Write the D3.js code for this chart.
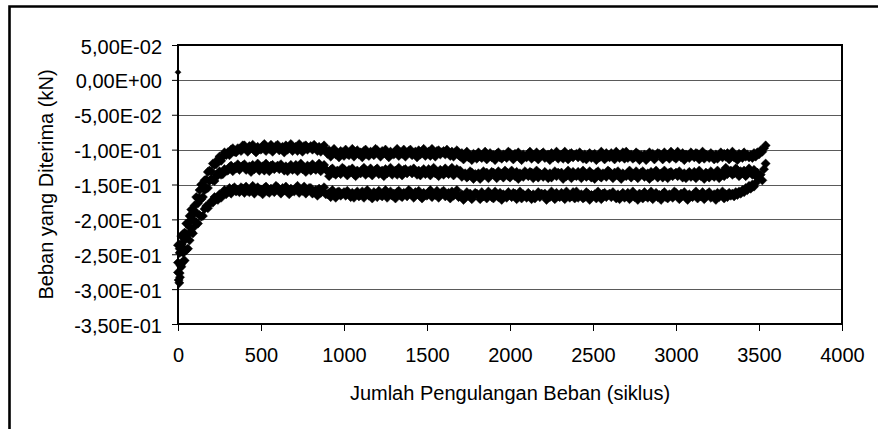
<!DOCTYPE html>
<html>
<head>
<meta charset="utf-8">
<script src="https://cdn.jsdelivr.net/npm/d3@7"></script>
<style>
  html, body { margin: 0; padding: 0; background: #fff; }
  svg { display: block; font-family: "Liberation Sans", Arial, sans-serif; }
</style>
</head>
<body>
<svg id="chart" width="878" height="429"></svg>
<script>
// Axis ticks
const xTicks = [0, 500, 1000, 1500, 2000, 2500, 3000, 3500, 4000];
const yTicks = [0.05, 0, -0.05, -0.10, -0.15, -0.20, -0.25, -0.30, -0.35];
const yTickLabels = ["5,00E-02", "0,00E+00", "-5,00E-02", "-1,00E-01", "-1,50E-01",
                     "-2,00E-01", "-2,50E-01", "-3,00E-01", "-3,50E-01"];

// Readings were logged every 10 load cycles, starting at cycle 0
const logInterval = 10;

// First reading before loading started (cycle, kN)
const firstCycle = 0;
const firstLoad = 0.011;

// Initial settling readings (cycle, kN)
const startCycles = [4, 8, 12, 16, 26, 32, 10, 22];
const startLoads  = [-0.287, -0.291, -0.283, -0.266, -0.262, -0.248, -0.242, -0.236];

// Upper readings, cycles 0 ... 3540 (kN)
const upperLoads = [
  -0.237, -0.236, -0.224, -0.221, -0.219, -0.206, -0.206, -0.195, -0.186, -0.187,
  -0.180, -0.168, -0.170, -0.158, -0.150, -0.151, -0.144, -0.143, -0.132, -0.130,
  -0.131, -0.120, -0.122, -0.121, -0.114, -0.110, -0.116, -0.110, -0.104, -0.108,
  -0.104, -0.108, -0.100, -0.098, -0.103, -0.104, -0.098, -0.099, -0.102, -0.094,
  -0.094, -0.099, -0.103, -0.095, -0.098, -0.093, -0.101, -0.104, -0.096, -0.099,
  -0.100, -0.095, -0.092, -0.102, -0.097, -0.099, -0.093, -0.103, -0.098, -0.095,
  -0.093, -0.101, -0.098, -0.096, -0.104, -0.094, -0.100, -0.097, -0.092, -0.102,
  -0.098, -0.096, -0.102, -0.092, -0.099, -0.103, -0.095, -0.094, -0.100, -0.097,
  -0.095, -0.100, -0.093, -0.098, -0.102, -0.096, -0.103, -0.097, -0.094, -0.101,
  -0.106, -0.101, -0.110, -0.103, -0.099, -0.107, -0.105, -0.111, -0.102, -0.104,
  -0.109, -0.100, -0.106, -0.108, -0.103, -0.099, -0.110, -0.105, -0.101, -0.107,
  -0.104, -0.111, -0.102, -0.100, -0.107, -0.109, -0.103, -0.105, -0.108, -0.099,
  -0.101, -0.106, -0.110, -0.102, -0.105, -0.100, -0.108, -0.111, -0.103, -0.106,
  -0.107, -0.102, -0.099, -0.109, -0.104, -0.106, -0.100, -0.110, -0.105, -0.102,
  -0.100, -0.108, -0.105, -0.103, -0.111, -0.101, -0.107, -0.104, -0.099, -0.109,
  -0.105, -0.103, -0.109, -0.099, -0.106, -0.110, -0.102, -0.101, -0.107, -0.104,
  -0.102, -0.107, -0.100, -0.105, -0.109, -0.103, -0.110, -0.104, -0.101, -0.108,
  -0.110, -0.105, -0.114, -0.107, -0.103, -0.111, -0.109, -0.115, -0.106, -0.108,
  -0.113, -0.104, -0.110, -0.112, -0.107, -0.103, -0.114, -0.109, -0.105, -0.111,
  -0.108, -0.115, -0.106, -0.104, -0.111, -0.113, -0.107, -0.109, -0.112, -0.103,
  -0.105, -0.110, -0.114, -0.106, -0.109, -0.104, -0.112, -0.115, -0.107, -0.110,
  -0.111, -0.106, -0.103, -0.113, -0.108, -0.110, -0.104, -0.114, -0.109, -0.106,
  -0.104, -0.112, -0.109, -0.107, -0.115, -0.105, -0.111, -0.108, -0.103, -0.113,
  -0.109, -0.107, -0.113, -0.103, -0.110, -0.114, -0.106, -0.105, -0.111, -0.108,
  -0.106, -0.111, -0.104, -0.109, -0.113, -0.107, -0.114, -0.108, -0.105, -0.112,
  -0.108, -0.106, -0.115, -0.109, -0.111, -0.103, -0.107, -0.114, -0.105, -0.110,
  -0.111, -0.105, -0.109, -0.114, -0.103, -0.107, -0.112, -0.110, -0.104, -0.113,
  -0.103, -0.112, -0.109, -0.107, -0.113, -0.111, -0.104, -0.106, -0.115, -0.108,
  -0.110, -0.107, -0.115, -0.112, -0.104, -0.109, -0.106, -0.114, -0.110, -0.105,
  -0.106, -0.109, -0.114, -0.104, -0.110, -0.108, -0.113, -0.103, -0.106, -0.111,
  -0.113, -0.103, -0.108, -0.111, -0.105, -0.115, -0.107, -0.109, -0.112, -0.104,
  -0.108, -0.111, -0.105, -0.106, -0.114, -0.110, -0.103, -0.113, -0.107, -0.109,
  -0.112, -0.105, -0.108, -0.114, -0.107, -0.113, -0.109, -0.104, -0.111, -0.106,
  -0.110, -0.105, -0.114, -0.107, -0.103, -0.111, -0.109, -0.115, -0.106, -0.108,
  -0.112, -0.104, -0.110, -0.107, -0.111,
  -0.108, -0.112, -0.105, -0.110, -0.104, -0.107, -0.101, -0.103, -0.098, -0.094
];

// Middle readings, cycles 0 ... 3540 (kN)
const middleLoads = [
  -0.262, -0.248, -0.246, -0.241, -0.230, -0.221, -0.222, -0.211, -0.200, -0.200,
  -0.191, -0.190, -0.177, -0.170, -0.171, -0.168, -0.158, -0.156, -0.155, -0.145,
  -0.142, -0.144, -0.145, -0.136, -0.137, -0.131, -0.136, -0.135, -0.128, -0.130,
  -0.130, -0.125, -0.123, -0.131, -0.125, -0.127, -0.121, -0.129, -0.125, -0.123,
  -0.121, -0.129, -0.126, -0.124, -0.132, -0.122, -0.128, -0.125, -0.120, -0.130,
  -0.126, -0.124, -0.130, -0.120, -0.127, -0.131, -0.123, -0.122, -0.128, -0.125,
  -0.123, -0.128, -0.121, -0.126, -0.130, -0.124, -0.131, -0.125, -0.122, -0.129,
  -0.127, -0.122, -0.131, -0.124, -0.120, -0.128, -0.126, -0.132, -0.123, -0.125,
  -0.130, -0.121, -0.127, -0.129, -0.124, -0.120, -0.131, -0.126, -0.122, -0.128,
  -0.131, -0.138, -0.129, -0.127, -0.134, -0.136, -0.130, -0.132, -0.135, -0.126,
  -0.128, -0.133, -0.137, -0.129, -0.132, -0.127, -0.135, -0.138, -0.130, -0.133,
  -0.134, -0.129, -0.126, -0.136, -0.131, -0.133, -0.127, -0.137, -0.132, -0.129,
  -0.127, -0.135, -0.132, -0.130, -0.138, -0.128, -0.134, -0.131, -0.126, -0.136,
  -0.132, -0.130, -0.136, -0.126, -0.133, -0.137, -0.129, -0.128, -0.134, -0.131,
  -0.129, -0.134, -0.127, -0.132, -0.136, -0.130, -0.137, -0.131, -0.128, -0.135,
  -0.133, -0.128, -0.137, -0.130, -0.126, -0.134, -0.132, -0.138, -0.129, -0.131,
  -0.136, -0.127, -0.133, -0.135, -0.130, -0.126, -0.137, -0.132, -0.128, -0.134,
  -0.130, -0.139, -0.136, -0.134, -0.140, -0.138, -0.131, -0.133, -0.142, -0.135,
  -0.137, -0.134, -0.142, -0.139, -0.131, -0.136, -0.133, -0.141, -0.137, -0.132,
  -0.133, -0.136, -0.141, -0.131, -0.137, -0.135, -0.140, -0.130, -0.133, -0.138,
  -0.140, -0.130, -0.135, -0.138, -0.132, -0.142, -0.134, -0.136, -0.139, -0.131,
  -0.135, -0.138, -0.132, -0.133, -0.141, -0.137, -0.130, -0.140, -0.134, -0.136,
  -0.139, -0.132, -0.135, -0.141, -0.134, -0.140, -0.136, -0.131, -0.138, -0.133,
  -0.135, -0.133, -0.142, -0.136, -0.138, -0.130, -0.134, -0.141, -0.132, -0.137,
  -0.138, -0.132, -0.136, -0.141, -0.130, -0.134, -0.139, -0.137, -0.131, -0.140,
  -0.135, -0.142, -0.133, -0.131, -0.138, -0.140, -0.134, -0.136, -0.139, -0.130,
  -0.132, -0.137, -0.141, -0.133, -0.136, -0.131, -0.139, -0.142, -0.134, -0.137,
  -0.138, -0.133, -0.130, -0.140, -0.135, -0.137, -0.131, -0.141, -0.136, -0.133,
  -0.131, -0.139, -0.136, -0.134, -0.142, -0.132, -0.138, -0.135, -0.130, -0.140,
  -0.136, -0.134, -0.140, -0.130, -0.137, -0.141, -0.133, -0.132, -0.138, -0.135,
  -0.133, -0.138, -0.131, -0.136, -0.140, -0.134, -0.141, -0.135, -0.132, -0.139,
  -0.137, -0.132, -0.141, -0.134, -0.130, -0.138, -0.136, -0.142, -0.133, -0.135,
  -0.140, -0.131, -0.137, -0.139, -0.134, -0.130, -0.141, -0.136, -0.132, -0.138,
  -0.126, -0.135, -0.132, -0.130, -0.136, -0.134, -0.127, -0.129, -0.138, -0.131,
  -0.133, -0.130, -0.138, -0.135, -0.127,
  -0.131, -0.136, -0.129, -0.138, -0.133, -0.141, -0.136, -0.144, -0.128, -0.120
];

// Lowest readings, cycles 0 ... 3480 (kN)
const lowerLoads = [
  -0.276, -0.277, -0.268, -0.260, -0.259, -0.244, -0.242, -0.230, -0.218, -0.220,
  -0.210, -0.204, -0.206, -0.194, -0.196, -0.195, -0.185, -0.181, -0.184, -0.178,
  -0.174, -0.176, -0.168, -0.170, -0.172, -0.164, -0.169, -0.162, -0.158, -0.164,
  -0.161, -0.155, -0.163, -0.156, -0.154, -0.160, -0.158, -0.161, -0.154, -0.156,
  -0.162, -0.153, -0.159, -0.161, -0.156, -0.152, -0.163, -0.158, -0.154, -0.160,
  -0.157, -0.164, -0.155, -0.153, -0.160, -0.162, -0.156, -0.158, -0.161, -0.152,
  -0.154, -0.159, -0.163, -0.155, -0.158, -0.153, -0.161, -0.164, -0.156, -0.159,
  -0.160, -0.155, -0.152, -0.162, -0.157, -0.159, -0.153, -0.163, -0.158, -0.155,
  -0.155, -0.163, -0.160, -0.158, -0.166, -0.156, -0.162, -0.159, -0.154, -0.164,
  -0.164, -0.162, -0.168, -0.158, -0.165, -0.169, -0.161, -0.160, -0.166, -0.163,
  -0.161, -0.166, -0.159, -0.164, -0.168, -0.162, -0.169, -0.163, -0.160, -0.167,
  -0.165, -0.160, -0.169, -0.162, -0.158, -0.166, -0.164, -0.170, -0.161, -0.163,
  -0.168, -0.159, -0.165, -0.167, -0.162, -0.158, -0.169, -0.164, -0.160, -0.166,
  -0.163, -0.170, -0.161, -0.159, -0.166, -0.168, -0.162, -0.164, -0.167, -0.158,
  -0.160, -0.165, -0.169, -0.161, -0.164, -0.159, -0.167, -0.170, -0.162, -0.165,
  -0.166, -0.161, -0.158, -0.168, -0.163, -0.165, -0.159, -0.169, -0.164, -0.161,
  -0.159, -0.167, -0.164, -0.162, -0.170, -0.160, -0.166, -0.163, -0.158, -0.168,
  -0.167, -0.164, -0.172, -0.169, -0.161, -0.166, -0.163, -0.171, -0.167, -0.162,
  -0.163, -0.166, -0.171, -0.161, -0.167, -0.165, -0.170, -0.160, -0.163, -0.168,
  -0.170, -0.160, -0.165, -0.168, -0.162, -0.172, -0.164, -0.166, -0.169, -0.161,
  -0.165, -0.168, -0.162, -0.163, -0.171, -0.167, -0.160, -0.170, -0.164, -0.166,
  -0.169, -0.162, -0.165, -0.171, -0.164, -0.170, -0.166, -0.161, -0.168, -0.163,
  -0.165, -0.163, -0.172, -0.166, -0.168, -0.160, -0.164, -0.171, -0.162, -0.167,
  -0.168, -0.162, -0.166, -0.171, -0.160, -0.164, -0.169, -0.167, -0.161, -0.170,
  -0.160, -0.169, -0.166, -0.164, -0.170, -0.168, -0.161, -0.163, -0.172, -0.165,
  -0.166, -0.164, -0.170, -0.160, -0.167, -0.171, -0.163, -0.162, -0.168, -0.165,
  -0.163, -0.168, -0.161, -0.166, -0.170, -0.164, -0.171, -0.165, -0.162, -0.169,
  -0.167, -0.162, -0.171, -0.164, -0.160, -0.168, -0.166, -0.172, -0.163, -0.165,
  -0.170, -0.161, -0.167, -0.169, -0.164, -0.160, -0.171, -0.166, -0.162, -0.168,
  -0.165, -0.172, -0.163, -0.161, -0.168, -0.170, -0.164, -0.166, -0.169, -0.160,
  -0.162, -0.167, -0.171, -0.163, -0.166, -0.161, -0.169, -0.172, -0.164, -0.167,
  -0.168, -0.163, -0.160, -0.170, -0.165, -0.167, -0.161, -0.171, -0.166, -0.163,
  -0.161, -0.169, -0.166, -0.164, -0.172, -0.162, -0.168, -0.165, -0.160, -0.170,
  -0.164, -0.168, -0.162, -0.166, -0.163, -0.167, -0.161, -0.165, -0.160, -0.163,
  -0.158, -0.161, -0.155, -0.158, -0.152, -0.156, -0.150, -0.153, -0.148
];

const xLabel = "Jumlah Pengulangan Beban (siklus)";
const yLabel = "Beban yang Diterima (kN)";

// ---- layout ----
const svg = d3.select("#chart");
const plot = { left: 178, right: 842, top: 45, bottom: 324 };
const x = d3.scaleLinear().domain([0, 4000]).range([plot.left, plot.right]);
const y = d3.scaleLinear().domain([-0.35, 0.05]).range([plot.bottom, plot.top]);
const FONT = 20;

// outer chart frame (runs past the right and bottom edges)
svg.append("path")
  .attr("d", "M9.5,440 V6.5 H900")
  .attr("fill", "none").attr("stroke", "#000").attr("stroke-width", 2.6);

// horizontal gridlines
svg.append("g").selectAll("line")
  .data(yTicks.filter(v => v < 0.05 && v > -0.35))
  .join("line")
  .attr("x1", plot.left).attr("x2", plot.right)
  .attr("y1", d => Math.round(y(d)) + 0.5).attr("y2", d => Math.round(y(d)) + 0.5)
  .attr("stroke", "#5a5a5a").attr("stroke-width", 1);

// plot area border
svg.append("rect")
  .attr("x", plot.left).attr("y", plot.top)
  .attr("width", plot.right - plot.left).attr("height", plot.bottom - plot.top)
  .attr("fill", "none").attr("stroke", "#000").attr("stroke-width", 2);

// all readings as (cycle, load, marker half-size)
const points = [[firstCycle, firstLoad, 3.0]];
startCycles.forEach((c, i) => points.push([c, startLoads[i], 4.6]));
[upperLoads, middleLoads, lowerLoads].forEach(series => {
  series.forEach((v, i) => points.push([i * logInterval, v, 4.6]));
});

// diamond markers
const diamond = r => `M0,${-r}L${r},0L0,${r}L${-r},0Z`;
svg.append("g").selectAll("path")
  .data(points)
  .join("path")
  .attr("d", d => diamond(d[2]))
  .attr("transform", d => `translate(${x(d[0])},${y(d[1])})`)
  .attr("fill", "#000").attr("stroke", "#000").attr("stroke-width", 0.5);

// axes
const yAxis = d3.axisLeft(y).tickValues(yTicks)
  .tickFormat((d, i) => yTickLabels[i]).tickSize(6).tickPadding(10);
const gy = svg.append("g").attr("transform", `translate(${plot.left},0)`).call(yAxis);
gy.select(".domain").remove();
gy.selectAll("text").attr("dy", "0.4em");

const xAxis = d3.axisBottom(x).tickValues(xTicks)
  .tickFormat(d3.format("d")).tickSize(7).tickPadding(17);
const gx = svg.append("g").attr("transform", `translate(0,${plot.bottom})`).call(xAxis);
gx.select(".domain").remove();

[gx, gy].forEach(g => {
  g.attr("font-size", FONT).attr("font-family", '"Liberation Sans", Arial, sans-serif');
  g.selectAll(".tick line").attr("stroke", "#000");
  g.selectAll("text").attr("fill", "#000");
});

// axis titles
svg.append("text")
  .attr("x", (plot.left + plot.right) / 2).attr("y", 400)
  .attr("text-anchor", "middle").attr("font-size", FONT).attr("fill", "#000")
  .text(xLabel);

svg.append("text")
  .attr("transform", `translate(53,${(plot.top + plot.bottom) / 2}) rotate(-90)`)
  .attr("text-anchor", "middle").attr("font-size", FONT).attr("fill", "#000")
  .text(yLabel);
</script>
</body>
</html>
